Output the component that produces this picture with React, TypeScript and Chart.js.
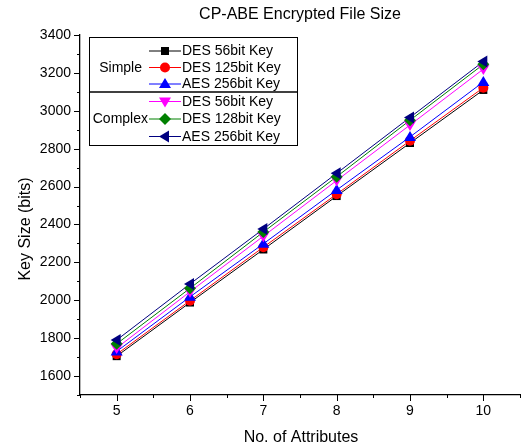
import React, { useEffect, useRef } from "react";
import { Chart, registerables } from "chart.js";

Chart.register(...registerables);

const attributes = [5, 6, 7, 8, 9, 10];
const simpleDes56 = [1705, 1988, 2268, 2550, 2830, 3110];
const simpleDes125 = [1715, 1998, 2280, 2560, 2842, 3122];
const simpleAes256 = [1730, 2018, 2298, 2582, 2862, 3152];
const complexDes56 = [1748, 2045, 2338, 2632, 2925, 3220];
const complexDes128 = [1770, 2063, 2360, 2652, 2950, 3245];
const complexAes256 = [1790, 2086, 2376, 2670, 2965, 3260];

const seriesLabels = ["DES 56bit Key", "DES 125bit Key", "AES 256bit Key", "DES 56bit Key", "DES 128bit Key", "AES 256bit Key"];
const groupLabels = ["Simple", "Complex"];
const yMajorTicks = [1600, 1800, 2000, 2200, 2400, 2600, 2800, 3000, 3200, 3400];
const xMajorTicks = [5, 6, 7, 8, 9, 10];

const colors = ["#000000", "#ff0000", "#0000ff", "#ff00ff", "#008000", "#000080"];
const styles = ["square", "circle", "up", "down", "diamond", "left"];
const allSeries = [simpleDes56, simpleDes125, simpleAes256, complexDes56, complexDes128, complexAes256];

const FONT = "Liberation Sans, Arial, sans-serif";

function marker(ctx: CanvasRenderingContext2D, kind: string, x: number, y: number, color: string) {
  ctx.save();
  ctx.fillStyle = color;
  ctx.beginPath();
  const r = 5;
  if (kind === "square") {
    ctx.rect(x - 4, y - 4, 8, 8);
  } else if (kind === "circle") {
    ctx.arc(x, y, r, 0, Math.PI * 2);
  } else if (kind === "up") {
    ctx.moveTo(x, y - r - 1);
    ctx.lineTo(x + r + 1, y + r - 1);
    ctx.lineTo(x - r - 1, y + r - 1);
  } else if (kind === "down") {
    ctx.moveTo(x, y + r + 1);
    ctx.lineTo(x + r + 1, y - r + 1);
    ctx.lineTo(x - r - 1, y - r + 1);
  } else if (kind === "diamond") {
    ctx.moveTo(x, y - r - 1);
    ctx.lineTo(x + r + 1, y);
    ctx.lineTo(x, y + r + 1);
    ctx.lineTo(x - r - 1, y);
  } else if (kind === "left") {
    ctx.moveTo(x - r - 1, y);
    ctx.lineTo(x + r - 1, y - r - 1);
    ctx.lineTo(x + r - 1, y + r + 1);
  }
  ctx.closePath();
  ctx.fill();
  ctx.restore();
}

const decorPlugin = {
  id: "decor",
  afterDraw(chart: any) {
    const ctx: CanvasRenderingContext2D = chart.ctx;
    const xs = chart.scales.x;
    const ys = chart.scales.y;
    const area = chart.chartArea;
    ctx.save();
    ctx.strokeStyle = "#000";
    ctx.lineWidth = 1;
    // y ticks
    for (let v = 1500; v <= 3400; v += 100) {
      const py = Math.round(ys.getPixelForValue(v)) + 0.5;
      const len = v % 200 === 0 ? 6 : 3;
      ctx.beginPath();
      ctx.moveTo(area.left - len, py);
      ctx.lineTo(area.left, py);
      ctx.stroke();
    }
    // x ticks
    for (let v = 4.5; v <= 10.5; v += 0.5) {
      const px = Math.round(xs.getPixelForValue(v)) + 0.5;
      const len = Number.isInteger(v) ? 6 : 3;
      ctx.beginPath();
      ctx.moveTo(px, area.bottom);
      ctx.lineTo(px, area.bottom + len);
      ctx.stroke();
    }
    // titles
    ctx.fillStyle = "#000";
    ctx.font = `16px ${FONT}`;
    ctx.textAlign = "center";
    ctx.textBaseline = "middle";
    ctx.fillText("CP-ABE Encrypted File Size", 300, 15);
    ctx.fillText("No. of Attributes", 301, 438);
    ctx.save();
    ctx.translate(26, 229);
    ctx.rotate(-Math.PI / 2);
    ctx.fillText("Key Size (bits)", 0, 0);
    ctx.restore();

    // legend
    ctx.fillStyle = "#fff";
    ctx.fillRect(89, 37, 208, 109);
    ctx.strokeStyle = "#000";
    ctx.lineWidth = 1;
    ctx.strokeRect(89.5, 37.5, 208, 108);
    ctx.lineWidth = 1.5;
    ctx.beginPath();
    ctx.moveTo(89, 92);
    ctx.lineTo(297, 92);
    ctx.stroke();
    const rows = [51, 67.5, 84, 101.5, 119, 136.5];
    ctx.font = `14px ${FONT}`;
    ctx.textBaseline = "middle";
    rows.forEach((ry, i) => {
      ctx.strokeStyle = colors[i];
      ctx.lineWidth = 1;
      ctx.beginPath();
      ctx.moveTo(149, ry);
      ctx.lineTo(181, ry);
      ctx.stroke();
      marker(ctx, styles[i], 165, ry, colors[i]);
      ctx.fillStyle = "#000";
      ctx.textAlign = "left";
      ctx.fillText(seriesLabels[i], 182, ry + 0.5);
    });
    ctx.fillStyle = "#000";
    ctx.textAlign = "right";
    ctx.fillText(groupLabels[0], 142, rows[1] + 0.5);
    ctx.fillText(groupLabels[1], 148, rows[4] + 0.5);
    ctx.restore();
  },
};

const markerPlugin = {
  id: "markers",
  afterDatasetsDraw(chart: any) {
    const ctx: CanvasRenderingContext2D = chart.ctx;
    chart.data.datasets.forEach((ds: any, i: number) => {
      const meta = chart.getDatasetMeta(i);
      meta.data.forEach((pt: any) => {
        marker(ctx, styles[i], pt.x, pt.y, colors[i]);
      });
    });
  },
};

export default function App() {
  const ref = useRef<HTMLCanvasElement | null>(null);
  useEffect(() => {
    if (!ref.current) return;
    const chart = new Chart(ref.current, {
      type: "line",
      data: {
        datasets: allSeries.map((s, i) => ({
          label: seriesLabels[i],
          data: attributes.map((x, j) => ({ x, y: s[j] })),
          borderColor: colors[i],
          backgroundColor: colors[i],
          borderWidth: 1,
          pointRadius: 0,
          fill: false,
          tension: 0,
        })),
      },
      options: {
        animation: false,
        responsive: false,
        maintainAspectRatio: false,
        layout: { padding: { top: 35, right: 4, bottom: 0, left: 0 } },
        plugins: { legend: { display: false }, title: { display: false }, tooltip: { enabled: false } },
        scales: {
          x: {
            type: "linear",
            min: 4.5,
            max: 10.5,
            afterBuildTicks: (s: any) => {
              s.ticks = xMajorTicks.map((v) => ({ value: v }));
            },
            afterFit: (s: any) => {
              s.height = 53;
            },
            grid: { display: false, drawTicks: false },
            border: { display: true, color: "#000", width: 1.3 },
            ticks: {
              color: "#000",
              font: { family: FONT, size: 14 },
              padding: 8,
              maxRotation: 0,
              callback: (v: any) => String(v),
            },
          },
          y: {
            type: "linear",
            min: 1500,
            max: 3400,
            afterBuildTicks: (s: any) => {
              s.ticks = yMajorTicks.map((v) => ({ value: v }));
            },
            afterFit: (s: any) => {
              s.width = 80;
            },
            grid: { display: false, drawTicks: false },
            border: { display: true, color: "#000", width: 1.3 },
            ticks: {
              color: "#000",
              font: { family: FONT, size: 14 },
              padding: 9,
              callback: (v: any) => String(v),
            },
          },
        },
      },
      plugins: [markerPlugin, decorPlugin],
    });
    return () => chart.destroy();
  }, []);
  return (
    <div style={{ position: "fixed", left: 0, top: 0, width: 524, height: 448, background: "#fff" }}>
      <canvas ref={ref} width={524} height={448} style={{ width: 524, height: 448 }} />
    </div>
  );
}
